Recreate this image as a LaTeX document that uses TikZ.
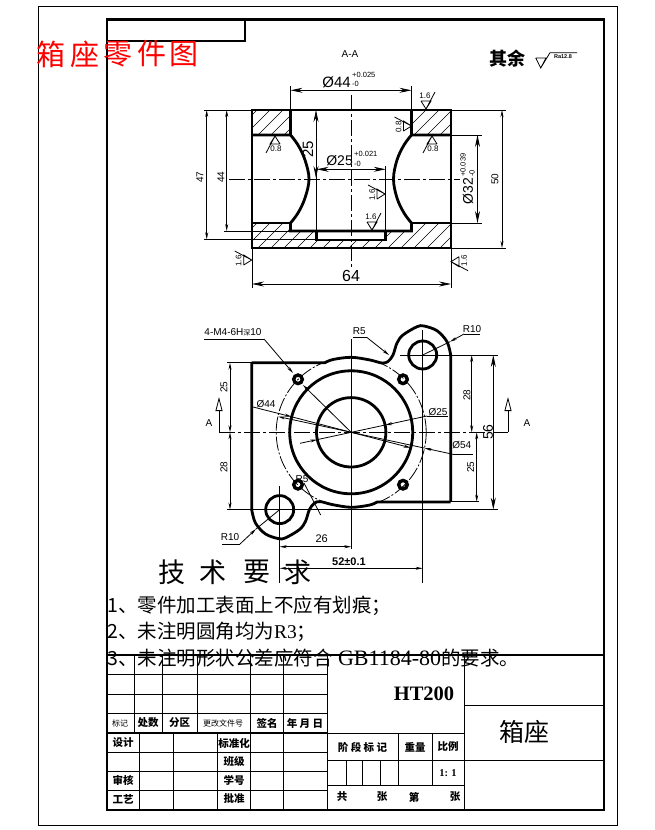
\documentclass[tikz,border=0pt]{standalone}
\usepackage{fontspec}
\setmainfont{Liberation Sans}
\newfontfamily\cjk{Noto Sans CJK SC}
\newfontfamily\serifnum{Liberation Serif}
\usetikzlibrary{arrows.meta}

\newcommand{\sz}[1]{\fontsize{#1}{#1}\selectfont}
\newcommand{\roughmark}[5]{%
    \begin{scope}[shift={(#1,#2)},rotate=#3]
        \draw[thinline] (-5,-8) -- (5,-8) -- (0,0) -- (-5,-8) (0,0) -- (9,-17);
        \node[dimtext,rotate=#4] (#5) at (-1,-13) {\sz{8}#5};
    \end{scope}}

\tikzset{
    thinline/.style={line width=0.8pt},
    partline/.style={line width=2.8pt,line join=miter},
    centerline/.style={line width=0.8pt,dash pattern=on 16pt off 3pt on 3pt off 3pt},
    hatchline/.style={line width=0.5pt},
    dimsmall/.style={thinline,{Stealth[length=7pt,width=3pt]}-{Stealth[length=7pt,width=3pt]}},
    dimbig/.style={thinline,{Stealth[length=12pt,width=5pt]}-{Stealth[length=12pt,width=5pt]}},
    leader/.style={thinline,-{Stealth[length=7pt,width=3pt]}},
    dimtext/.style={inner sep=0pt,font=\sz{10}},
    toltext/.style={inner sep=0pt,font=\sz{7.5}},
    cjktext/.style={inner sep=0pt,font=\cjk\sz{10}}
}

\begin{document}
\begin{tikzpicture}[x=1pt,y=-1pt]
    \useasboundingbox (0,0) rectangle (654,830);

    % frames
    \draw[line width=1pt] (38,6) rectangle (617,825);
    \draw[partline] (107,19.5) rectangle (604,810);
    \draw[partline] (107,41) -- (245,41) -- (245,19.5);

    % red title
    \foreach \c/\x/\n in {箱/51/a,座/85/b,零/118/c,件/152/d,图/184/e} {
        \node[cjktext,red,font=\cjk\sz{29}] (title\n) at (\x,54) {\c};
    }
    \node[dimtext] (secname) at (350,54) {A-A};
    \node[cjktext,font=\cjk\bfseries\sz{18}] (rest) at (507,59) {其余};
    \draw[thinline] (535.7,58) -- (546,58) -- (540.7,68) -- (535.7,58) (540.7,68) -- (550,52.7) -- (577,52.7);
    \node[dimtext,font=\bfseries\sz{5.5}] (restra) at (563,57) {Ra12.8};

    % section view, hatching
    \begin{scope}
        \clip (252,110) rectangle (291,135) (411.5,110) rectangle (451,135)
        (252,223) -- (291,223) -- (291,231) -- (316.7,231) -- (316.7,240) -- (385.7,240)
        -- (385.7,231) -- (411.5,231) -- (411.5,223) -- (451,223) -- (451,248) -- (252,248) -- cycle;
        \foreach \x in {230,243,...,480} {
            \draw[hatchline] (\x,250) -- (\x+30,220);
            \draw[hatchline] (\x,137) -- (\x+30,107);
        }
    \end{scope}

    % section view, outline
    \draw[partline] (252,110) rectangle (451,248);
    \draw[partline] (290.5,110) -- (290.5,135) (411.5,110) -- (411.5,135);
    \draw[partline] (252,135) -- (290.5,135) plot[smooth,tension=0.6] coordinates {(290.5,135) (298,145) (305,160) (309,179) (305,198) (298,213) (290.5,223)} -- (290.5,231) -- (411.5,231) -- (411.5,223) plot[smooth,tension=0.6] coordinates {(411.5,223) (404,213) (397,198) (393.5,179) (397,160) (404,145) (411.5,135)} -- (451,135);
    \draw[partline] (252,223) -- (290.5,223) (411.5,223) -- (451,223);
    \draw[partline] (316.7,231) -- (316.7,240) -- (385.7,240) -- (385.7,231);

    % section view, center lines
    \draw[centerline] (351.5,95) -- (351.5,268);
    \draw[centerline] (229,179.5) -- (460,179.5);

    % section view, dimensions
    \draw[thinline] (290.5,110) -- (290.5,86) (411.5,110) -- (411.5,86);
    \draw[dimbig] (290.5,90.3) -- (411.5,90.3);
    \node[dimtext,anchor=east,font=\sz{15}] (dima) at (351,82) {Ø44};
    \node[toltext,anchor=west] (dimau) at (352,74.5) {+0.025};
    \node[toltext,anchor=west] (dimal) at (352,84) {-0};
    \draw[thinline] (204,110) -- (252,110) (204,239.3) -- (317,239.3) (224,231) -- (291,231);
    \draw[dimsmall] (206.7,110) -- (206.7,239.3);
    \draw[dimsmall] (226.7,110) -- (226.7,231);
    \node[dimtext,rotate=90] (dimb) at (200,177) {47};
    \node[dimtext,rotate=90] (dimc) at (221,177) {44};
    \draw[thinline] (451,110) -- (506,110) (451,248) -- (506,248) (451,135) -- (481.7,135) (451,223) -- (481.7,223);
    \draw[dimsmall] (502,110) -- (502,248);
    \node[dimtext,rotate=90] (dimd) at (495,179) {50};
    \draw[dimbig] (477.5,135) -- (477.5,223);
    \node[dimtext,rotate=90,anchor=east,font=\sz{14}] (dime) at (468,178) {Ø32};
    \node[toltext,rotate=90,anchor=west] (dimeu) at (463,177) {+0.039};
    \node[toltext,rotate=90,anchor=west] (dimel) at (472,177) {-0};
    \draw[thinline] (316.7,169) -- (316.7,231) (385.7,166) -- (385.7,231);
    \draw[dimbig] (316,110) -- (316,178);
    \node[dimtext,rotate=90,font=\sz{15}] (dimf) at (308,149) {25};
    \draw[dimbig] (316.7,169.3) -- (385.7,169.3);
    \node[dimtext,anchor=east,font=\sz{14}] (dimg) at (353,161) {Ø25};
    \node[toltext,anchor=west] (dimgu) at (354,154) {+0.021};
    \node[toltext,anchor=west] (dimgl) at (354,163.5) {-0};
    \draw[thinline] (252,248) -- (252,288) (451,248) -- (451,288);
    \draw[dimbig] (252,284) -- (451,284);
    \node[dimtext,font=\sz{16}] (dimh) at (351,276) {64};

    % section view, roughness
    \roughmark{426}{109}{0}{0}{1.6}
    \roughmark{275}{136}{180}{0}{0.8}
    \roughmark{432}{136}{180}{0}{0.8}
    \roughmark{411.5}{126}{90}{90}{0.8}
    \roughmark{385}{194}{90}{90}{1.6}
    \roughmark{372}{230}{0}{0}{1.6}
    \roughmark{251.7}{260}{90}{90}{1.6}
    \roughmark{451}{261.7}{-90}{90}{1.6}

    % plan view, outline (two equal halves)
    \foreach \a in {0,180} {
        \begin{scope}[rotate around={\a:(351.2,432.3)}]
            \draw[partline,line join=round] (251.7,362.7) -- (325,362.7) -- plot[smooth,tension=0.55] coordinates {(325,362.7) (333,359.5) (351.2,357.3) (370,360) (382,363) (388,361.5) (393,355) (397,343) (403,335) (417,326.7) (424,326) (437,330.7) (447,341.7) (450.7,355)} -- (450.7,501.9);
        \end{scope}
    }
    \draw[partline] (351.2,432.3) circle[radius=61.5pt] circle[radius=34.7pt];
    \draw[partline] (422.7,355) circle[radius=14pt] (279.7,509.6) circle[radius=14pt];
    \draw[thinline,dash pattern=on 14pt off 2pt on 2pt off 2pt] (351.2,432.3) circle[radius=75pt];
    \foreach \x/\y in {298/379.3,403/379.3,298/484.7,403/484.7} {
        \draw[line width=3.4pt] (\x,\y) circle[radius=4.3pt];
    }

    % plan view, center lines
    \draw[centerline] (219,432.3) -- (508,432.3);
    \draw[thinline] (351.2,339) -- (351.2,549);
    \draw[thinline] (279.7,486) -- (279.7,583) (422.7,330) -- (422.7,583);
    \draw[thinline] (400,355) -- (498,355) (227,509.6) -- (498,509.6);

    % section arrows
    \foreach \x/\ax/\n in {219/209/a,508/527/b} {
        \draw[thinline,-{Triangle[open,fill=white,length=14pt,width=7pt]}] (\x,432.3) -- (\x,397);
        \node[dimtext] (sec\n) at (\ax,423) {A};
    }

    % plan view, dimensions
    \draw[thinline] (227,362.7) -- (252,362.7) (450.7,501.7) -- (479,501.7);
    \draw[dimsmall] (230,362.7) -- (230,432.3);
    \draw[dimsmall] (230,432.3) -- (230,509.6);
    \node[dimtext,rotate=90] (pla) at (224,387) {25};
    \node[dimtext,rotate=90] (plb) at (224,467) {28};
    \draw[dimsmall] (471.7,355) -- (471.7,432.3);
    \draw[dimsmall] (476.7,432.3) -- (476.7,501.7);
    \node[dimtext,rotate=90] (plc) at (467,395) {28};
    \node[dimtext,rotate=90] (pld) at (470.7,467) {25};
    \draw[dimbig] (493.3,355) -- (493.3,509.6);
    \node[dimtext,rotate=90,font=\sz{14}] (ple) at (488,432) {56};
    \draw[dimsmall] (279.7,546.7) -- (351.2,546.7);
    \node[dimtext,font=\sz{11}] (plf) at (321.7,539) {26};
    \draw[dimsmall] (279.7,568.3) -- (422.7,568.3);
    \node[dimtext,font=\bfseries\sz{11}] (plg) at (349,561.7) {52±0.1};

    % plan view, leaders
    \node[dimtext] (mfour) at (233,332.7) {4-M4-6H{\cjk\sz{7}深}10};
    \draw[thinline] (204,339) -- (264,339);
    \draw[leader] (264,339) -- (293,373);
    \draw[leader] (351.2,432.3) -- (303,385);
    \node[dimtext] (rfivea) at (359.3,330.7) {R5};
    \draw[thinline] (353,337.3) -- (366.7,337.3);
    \draw[leader] (366.7,337.3) -- (389,355);
    \node[dimtext] (rtena) at (472,329) {R10};
    \draw[thinline] (464,334) -- (480,334);
    \draw[leader] (464,334) -- (450,341.7);
    \draw[thinline] (450,341.7) -- (422.7,355);
    \node[dimtext] (rtenb) at (230,537) {R10};
    \draw[thinline] (222,544) -- (240,544);
    \draw[leader] (240,544) -- (256,529);
    \draw[thinline] (256,529) -- (279.7,509.6);
    \node[dimtext] (rfiveb) at (302,479) {R5};
    \draw[thinline] (304,483) -- (320.7,515);
    \node[dimtext] (phia) at (266,404) {Ø44};
    \draw[leader] (253,407) -- (291.7,416.8);
    \draw[leader] (291.7,416.8) -- (410.7,447.8);
    \node[dimtext] (phib) at (461.7,445) {Ø54};
    \draw[thinline] (453,454.3) -- (472.7,454.3);
    \draw[leader] (453,454.3) -- (424.5,448.1);
    \draw[leader] (424.5,448.1) -- (277.9,416.5);
    \node[dimtext] (phic) at (438,411.7) {Ø25};
    \draw[thinline] (427,416) -- (448,416);
    \draw[leader] (427,416) -- (385.2,425);
    \draw[thinline] (385.2,425) -- (317.3,439.6);
    \draw[leader] (300,443.3) -- (317.3,439.6);

    % notes
    \foreach \c/\x/\n in {技/172/a,术/213/b,要/257/c,求/298/d} {
        \node[cjktext,font=\cjk\sz{27}] (tech\n) at (\x,572) {\c};
    }
    \node[cjktext,anchor=west,font=\cjk\sz{19.5}] (notea) at (107,606) {1、零件加工表面上不应有划痕；};
    \node[cjktext,anchor=west,font=\cjk\sz{19.5}] (noteb) at (107,632) {2、未注明圆角均为{\serifnum R3}；};
    \node[cjktext,anchor=west,font=\cjk\sz{19.5}] (notec) at (107,658) {3、未注明形状公差应符合{\serifnum\sz{22} GB1184-80}的要求。};

    % title block
    \draw[line width=1.6pt] (107,655) -- (604,655) (107,733) -- (328,733);
    \foreach \y in {674,694,713} {
        \draw[thinline] (107,\y) -- (328,\y);
    }
    \foreach \y in {752,771,790} {
        \draw[thinline] (107,\y) -- (328,\y);
    }
    \foreach \x in {134,162,197,250,283} {
        \draw[thinline] (\x,655) -- (\x,733);
    }
    \foreach \x in {139,173,217,250,283} {
        \draw[thinline] (\x,733) -- (\x,810);
    }
    \draw[thinline] (327.5,655) -- (327.5,810) (464,655) -- (464,810);
    \draw[thinline] (327.5,733) -- (464,733) (327.5,760) -- (464,760) (327.5,785) -- (464,785);
    \draw[thinline] (398,733) -- (398,785) (432,733) -- (432,785);
    \foreach \x in {346,362,380} {
        \draw[thinline] (\x,760) -- (\x,785);
    }
    \draw[thinline] (464,705) -- (604,705) (464,760) -- (604,760);

    % title block, texts
    \foreach \t/\x/\y/\n in {处数/148/723/a,分区/179.5/723/b,签名/267/723/d,设计/123/743/e,标准化/234/743/f,班级/234/761/g,审核/123/780/h,学号/234/780/i,工艺/123/799/j,批准/234/799/k,重量/415/747/l,比例/448/747/m,共/342/797/n,张/382/797/o,第/414/797/p,张/455/797/q} {
        \node[cjktext,font=\cjk\bfseries\sz{10.5}] (blk\n) at (\x,\y) {\t};
    }
    \node[cjktext,font=\cjk\sz{8}] (blkr) at (120,723) {标记};
    \node[cjktext,font=\cjk\sz{8}] (blkc) at (223,723) {更改文件号};
    \node[cjktext,font=\cjk\bfseries\sz{10.5}] (blks) at (305,723) {年 月 日};
    \node[cjktext,font=\cjk\bfseries\sz{10.5}] (blkt) at (362.5,747) {阶 段 标 记};
    \node[dimtext,font=\serifnum\bfseries\sz{10.5}] (blku) at (448,773) {1: 1};
    \node[dimtext,font=\serifnum\bfseries\sz{20.5}] (blkv) at (424,694) {HT200};
    \node[cjktext,font=\cjk\sz{25}] (blkw) at (524,732) {箱座};
\end{tikzpicture}
\end{document}
